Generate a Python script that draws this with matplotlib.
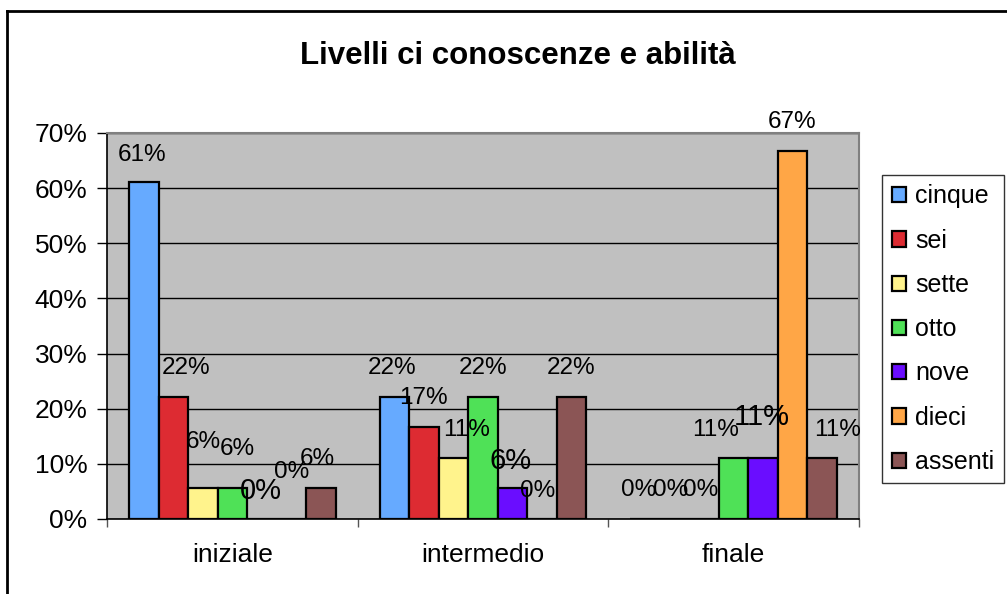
import matplotlib
matplotlib.use("Agg")
import matplotlib.pyplot as plt
from matplotlib.lines import Line2D
from matplotlib.ticker import PercentFormatter, FixedLocator, NullFormatter
import numpy as np

plt.rcParams["font.family"] = ["Liberation Sans", "DejaVu Sans"]

groups = ["iniziale", "intermedio", "finale"]
series = ["cinque", "sei", "sette", "otto", "nove", "dieci", "assenti"]
# share of students per level, one row per series (iniziale, intermedio, finale)
values = [
    [0.611, 0.222, 0.000],
    [0.222, 0.167, 0.000],
    [0.056, 0.111, 0.000],
    [0.056, 0.222, 0.111],
    [0.000, 0.056, 0.111],
    [0.000, 0.000, 0.667],
    [0.056, 0.222, 0.111],
]
colors = ["#66AAFF", "#DD2B32", "#FFF38C", "#4FE157", "#6A0DFF", "#FFA646", "#8B5555"]

# label offsets in pixels (dx, dy up) per series, per group
label_off = [
    [(-2, 27), (-2, 29), (-7, 29)],
    [(13, 29), (-1, 29), (-4, 29)],
    [(0, 46), (13, 28), (-4, 29)],
    [(5, 39), (0, 29), (-18, 28)],
    [(-1, 28), (-2, 27), (-1, 41)],
    [(0, 47), (-4, 28), (-1, 29)],
    [(-3, 29), (0, 29), (15, 28)],
]
label_fs = [17.5, 17.5, 17.5, 17.5, 21, 17.5, 17.5]

W, H = 1007, 594
fig = plt.figure(figsize=(W / 100, H / 100), dpi=100)
fig.patch.set_facecolor("white")
ax = fig.add_axes([107 / W, 1 - 519 / H, 752 / W, 386 / H])
ax.set_facecolor("#C0C0C0")

n = len(series)
bw = 1.0 / (n + 1.5)
x = np.arange(len(groups))
for i, name in enumerate(series):
    xs = x + (i - (n - 1) / 2) * bw
    ax.bar(xs, values[i], width=bw, color=colors[i], edgecolor="black",
           linewidth=1.6, label=name, zorder=3)
    for j, v in enumerate(values[i]):
        dx, dy = label_off[i][j]
        ax.annotate(f"{v:.0%}", (xs[j], v), xytext=(dx, dy),
                    textcoords="offset pixels", ha="center", va="center",
                    fontsize=label_fs[i], color="black", zorder=4)

ax.set_xlim(-0.5, 2.5)
ax.set_ylim(0, 0.7)
ax.yaxis.set_major_locator(FixedLocator(np.arange(0, 0.71, 0.1)))
ax.yaxis.set_major_formatter(PercentFormatter(1.0, decimals=0))
ax.grid(axis="y", color="black", linewidth=1.0, zorder=1)
ax.set_axisbelow(True)

ax.set_xticks([-0.5, 0.5, 1.5, 2.5])
ax.xaxis.set_major_formatter(NullFormatter())
ax.set_xticks(x, minor=True)
ax.set_xticklabels(groups, minor=True)
ax.tick_params(axis="x", which="major", length=5.8, width=1, color="#555555")
ax.tick_params(axis="x", which="minor", length=0, pad=17.5, labelsize=19)
ax.tick_params(axis="y", length=7.2, width=1, labelsize=19, pad=7)

for s in ("top", "right"):
    ax.spines[s].set_color("#808080")
    ax.spines[s].set_linewidth(1.5)
for s in ("left", "bottom"):
    ax.spines[s].set_color("black")
    ax.spines[s].set_linewidth(1.2)

fig.text(518 / W, 1 - 56 / H, "Livelli ci conoscenze e abilità", ha="center",
         va="center", fontsize=22.5, fontweight="bold")

leg = ax.legend(loc="upper left", bbox_to_anchor=(882 / W, 1 - 175 / H),
                bbox_transform=fig.transFigure, fontsize=18, frameon=True,
                fancybox=False, edgecolor="black", handlelength=0.56,
                handleheight=0.56, handletextpad=0.4, labelspacing=0.81,
                borderpad=0.38, borderaxespad=0)
leg.get_frame().set_linewidth(1.0)

# outer chart border, cut off on the right and bottom
fig.add_artist(Line2D([7 / W, 7 / W], [0, 1 - 11 / H], color="black", lw=2,
                      transform=fig.transFigure))
fig.add_artist(Line2D([7 / W, 1], [1 - 11 / H, 1 - 11 / H], color="black", lw=2,
                      transform=fig.transFigure))

fig.savefig("out.png", dpi=100, facecolor="white")
